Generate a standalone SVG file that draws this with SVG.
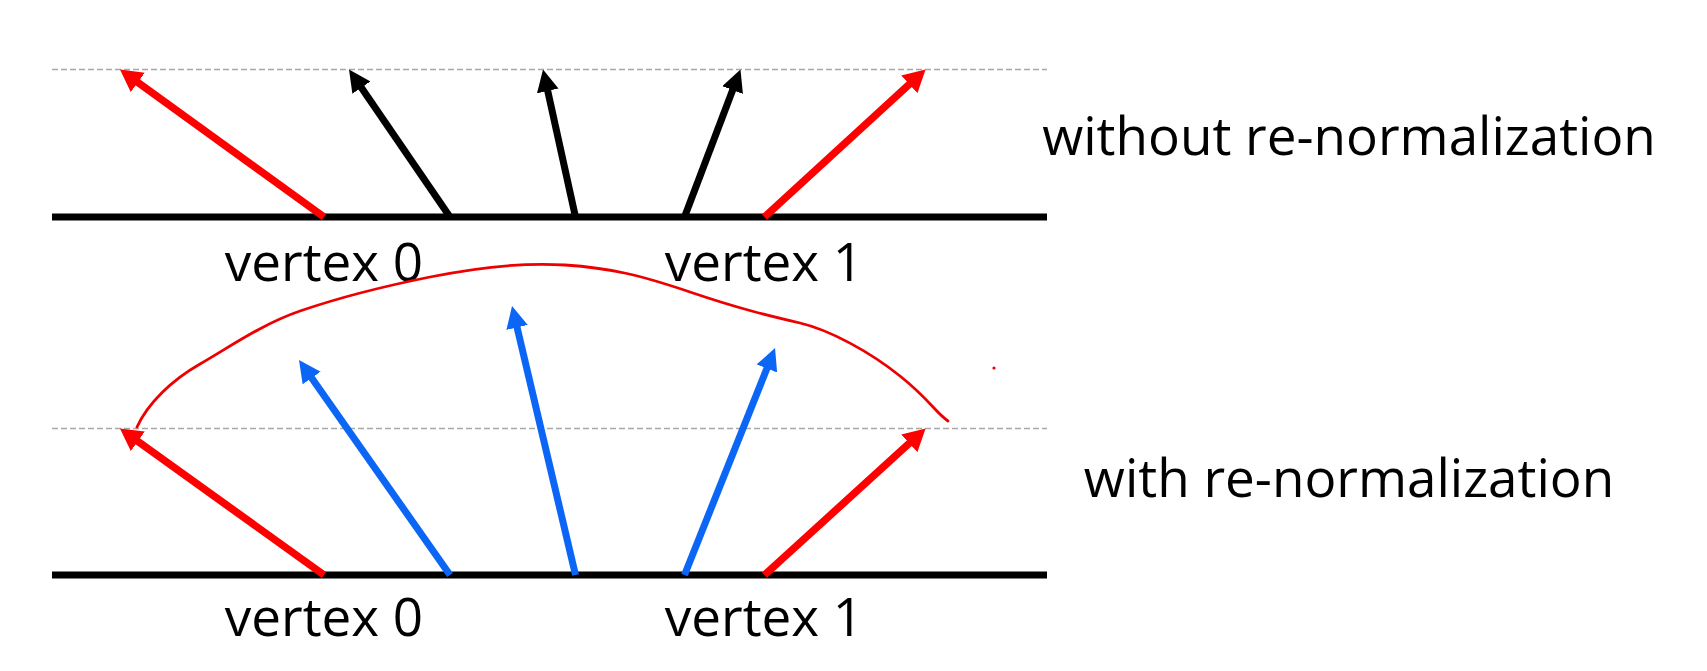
<svg xmlns="http://www.w3.org/2000/svg" width="1707" height="671" viewBox="0 0 1707 671">
<style>
.bg{fill:#fff}
.dash{stroke:#a8a8a8;stroke-width:1.3;stroke-dasharray:6 3;fill:none}
.base{stroke:#000;stroke-width:7;fill:none}
.red{stroke:#ff0000;stroke-width:7.5;fill:none;marker-end:url(#hRed)}
.blk{stroke:#000;stroke-width:7;fill:none;marker-end:url(#hBlk)}
.blu{stroke:#0b66f5;stroke-width:7;fill:none;marker-end:url(#hBlu)}
.curve{stroke:#ee0000;stroke-width:2.8;fill:none;stroke-linecap:round}
text{font-family:"Open Sans","Noto Sans","Liberation Sans",sans-serif;font-size:53px;fill:#000}
.mid{text-anchor:middle}
</style>
<defs>
<marker id="hRed" markerUnits="userSpaceOnUse" markerWidth="26" markerHeight="26" refX="10" refY="12" orient="auto"><path d="M0,0 L22,12 L0,24 z" fill="#ff0000"/></marker>
<marker id="hBlk" markerUnits="userSpaceOnUse" markerWidth="26" markerHeight="26" refX="10" refY="11" orient="auto"><path d="M0,0 L22,11 L0,22 z" fill="#000"/></marker>
<marker id="hBlu" markerUnits="userSpaceOnUse" markerWidth="26" markerHeight="26" refX="10" refY="11" orient="auto"><path d="M0,0 L22,11 L0,22 z" fill="#0b66f5"/></marker>
</defs>
<rect class="bg" x="0" y="0" width="1707" height="671"/>

<g id="top-panel">
<line class="dash" x1="52" y1="69.5" x2="1047" y2="69.5"/>
<line class="base" x1="52" y1="217" x2="1047" y2="217"/>
<text class="mid" x="324" y="281">vertex 0</text>
<text class="mid" x="764" y="281">vertex 1</text>
<text class="mid" x="1349" y="155">without re-normalization</text>
</g>

<g id="bottom-panel">
<line class="dash" x1="52" y1="428.5" x2="1047" y2="428.5"/>
<line class="base" x1="52" y1="575" x2="1047" y2="575"/>
<text class="mid" x="324" y="636">vertex 0</text>
<text class="mid" x="764" y="636">vertex 1</text>
<text class="mid" x="1349" y="497">with re-normalization</text>
</g>

<g id="connectors">
<line class="red" x1="324" y1="217" x2="129.7" y2="76.5"/>
<line class="blk" x1="450" y1="217" x2="355.8" y2="79.4"/>
<line class="blk" x1="575.5" y1="217" x2="545.6" y2="81.2"/>
<line class="blk" x1="684.5" y1="217" x2="736.2" y2="80.7"/>
<line class="red" x1="764.5" y1="217" x2="916.7" y2="77.6"/>

<line class="red" x1="324" y1="575" x2="129.7" y2="435.5"/>
<line class="blu" x1="450" y1="575" x2="305.9" y2="369.8"/>
<line class="blu" x1="575.5" y1="575" x2="514.8" y2="317.7"/>
<line class="blu" x1="684.5" y1="575" x2="770.6" y2="359.2"/>
<line class="red" x1="764.5" y1="575" x2="916.7" y2="436.6"/>
</g>

<g id="envelope">
<path class="curve" d="M137,427 C148,403 172,380 200,364 S262,324 300,311 S390,285 430,277 S520,262 565,265 S640,275 690,292 S770,316 800,323 S870,352 900,376 S935,412 948,421"/>
<circle cx="994" cy="368" r="1.6" fill="#ee0000"/>
</g>
</svg>
